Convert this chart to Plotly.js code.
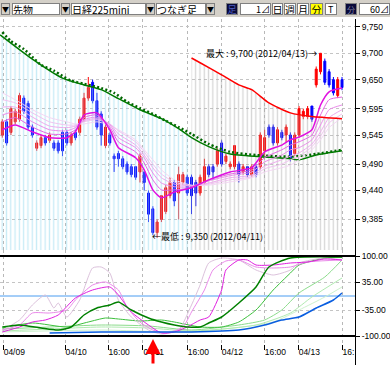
<!DOCTYPE html>
<html><head><meta charset="utf-8">
<script src="https://cdn.plot.ly/plotly-3.0.1.min.js"></script>
<style>html,body{margin:0;padding:0;background:#fff;overflow:hidden}#chart{width:390px;height:365px}</style>
</head><body><div id="chart"></div>
<script>
// ---------- DATA ----------
const bars = [0,1,2,3,4,5,6,7,8,9,10,11,12,13,14,15,16,17,18,19,20,21,22,23,24,25,26,27,28,29,30,31,32,33,34,35,36,37,38,39,40,41,42,43,44,45,46,47,48,49,50,51,52,53,54,55,56,57,58,59,60,61,62,63,64,65,66,67,68,69,70,71,72,73,74,75,76,77,78,79];
const open  = [9545,9570,9550,9570,9575,9615,9605,9560,9520,9525,9540,9535,9530,9530,9550,9550,9530,9550,9550,9575,9615,9645,9610,9585,9525,9545,9505,9510,9500,9490,9485,9485,9475,9475,9435,9405,9360,9385,9400,9430,9455,9435,9455,9465,9465,9455,9435,9455,9485,9485,9490,9530,9495,9485,9485,9490,9475,9485,9470,9485,9485,9515,9560,9560,9530,9550,9545,9545,9510,9545,9580,9580,9600,9640,9665,9685,9665,9650,9620,9650];
const high  = [9575,9575,9600,9595,9625,9620,9610,9565,9535,9545,9545,9550,9535,9535,9555,9555,9550,9555,9580,9625,9655,9650,9625,9590,9565,9550,9510,9515,9505,9495,9490,9485,9510,9475,9440,9410,9385,9430,9450,9465,9460,9485,9475,9470,9470,9460,9470,9500,9490,9490,9520,9535,9510,9495,9525,9495,9490,9485,9490,9490,9550,9555,9565,9565,9560,9555,9565,9550,9550,9600,9595,9600,9600,9675,9700,9690,9670,9655,9655,9655];
const low   = [9540,9525,9545,9565,9570,9585,9555,9540,9515,9520,9525,9530,9515,9510,9505,9525,9525,9535,9545,9570,9610,9605,9555,9525,9520,9525,9475,9485,9480,9470,9465,9460,9455,9440,9380,9355,9350,9380,9395,9425,9410,9385,9450,9430,9395,9410,9430,9450,9465,9460,9485,9485,9490,9480,9480,9455,9470,9465,9465,9465,9480,9505,9540,9525,9525,9535,9530,9495,9505,9540,9575,9575,9570,9635,9660,9640,9635,9620,9615,9630];
const close = [9570,9530,9595,9590,9620,9590,9560,9545,9530,9540,9530,9545,9520,9515,9515,9530,9545,9540,9575,9615,9635,9610,9560,9545,9560,9530,9500,9500,9485,9475,9470,9465,9505,9455,9395,9360,9380,9430,9445,9455,9420,9470,9470,9435,9430,9435,9465,9485,9470,9475,9515,9490,9505,9490,9525,9470,9485,9470,9485,9470,9545,9540,9545,9530,9555,9540,9560,9500,9545,9595,9590,9595,9575,9670,9700,9645,9640,9625,9650,9635];

// moving-average ribbon (sampled)
const ribX = [0,3,7,11,15,17,19,22,25,27,31,33,35,37,40,44,48,53,58,61,65,67,69,72,74,76,79];
const ma1 = [9555,9564,9551,9540,9540,9551,9583,9587,9555,9521,9502,9479,9441,9426,9437,9445,9460,9475,9483,9513,9526,9536,9541,9555,9602,9627,9634];
const ma2 = [9570,9578,9560,9547,9547,9555,9578,9583,9560,9532,9513,9492,9460,9441,9441,9445,9460,9471,9479,9502,9517,9526,9532,9545,9583,9612,9617];
const ma3 = [9583,9589,9570,9555,9553,9559,9574,9579,9564,9540,9521,9502,9473,9454,9447,9447,9458,9468,9475,9494,9507,9517,9521,9536,9564,9593,9602];
const ma4 = [9598,9598,9579,9562,9559,9562,9572,9576,9566,9547,9526,9507,9483,9464,9452,9449,9454,9464,9469,9486,9498,9505,9511,9528,9551,9578,9593];
const ma5 = [9612,9606,9587,9570,9564,9564,9570,9574,9566,9553,9532,9513,9490,9471,9456,9449,9452,9460,9466,9481,9490,9498,9504,9523,9543,9568,9585];
const ma6 = [9625,9612,9593,9578,9570,9566,9566,9570,9564,9555,9536,9517,9498,9479,9460,9450,9450,9456,9464,9475,9483,9488,9498,9517,9536,9559,9578];

// long averages
const greenX = [-0.5,7,14,19,23,27,32,37,41,44,48,53,60,67,69,73,79];
const greenY = [9735,9689,9653,9640,9631,9614,9593,9576,9557,9540,9523,9509,9504,9500,9498,9507,9515];
const dotX = [0,2,5,7,9,12,14,16,19,21,23,26,29,32,35,38,41,44,48,53,59,67,73,79];
const dotY = [9740,9723,9708,9693,9678,9667,9657,9648,9642,9638,9634,9625,9608,9596,9585,9572,9560,9547,9528,9513,9507,9504,9509,9517];
const redX = [44,46,51,55,58,62,67,72,79];
const redY = [9691,9682,9659,9640,9631,9606,9587,9580,9576];

// oscillator panel
const p3X = [0,4,7,10,12,13,15,18,21,23,25,27,30,34,37,41,44,46,48,51,55,59,63,67,69,75,79];
const p3Y = [-85,-60,-22.5,2.5,-30,-17.5,-52.5,-10,70,72.5,57.5,-10,-52.5,-85,-95,-85,-22.5,27.5,82.5,95,90,65,52.5,65,82.5,95,90];
const p2X = [0,4,7,11,15,17,21,24,27,29,32,35,38,42,44,47,49,52,55,59,63,67,71,79];
const p2Y = [-85,-72.5,-42.5,-42.5,-35,-10,27.5,35,15,-27.5,-65,-85,-92.5,-77.5,-40,15,65,87.5,90,72.5,70,72.5,85,90];
const p1X = [0,4,7,10,13,17,21,25,27,30,34,37,40,43,46,48,51,52,55,57,59,63,67,71,75,79];
const p1Y = [-90,-77.5,-65,-60,-47.5,-5,15,22.5,2.5,-40,-72.5,-92.5,-90,-77.5,-60,-52.5,15,65,90,90,77.5,77.5,82.5,85,92.5,90];
const g1X = [0,4,9,13,16,19,22,25,27,30,34,37,40,43,46,48,51,55,59,62,67,79];
const g1Y = [-77.5,-72.5,-80,-85,-77.5,-47.5,-30,-22.5,-15,-35,-55,-65,-72.5,-77.5,-77.5,-67.5,-52.5,-17.5,22.5,72.5,95,97.5];
const g2X = [0,7,15,20,24,27,32,37,40,46,51,55,59,63,67,69,75,79];
const g2Y = [-80,-67.5,-77.5,-65,-55,-57.5,-62.5,-60,-65,-77.5,-77.5,-65,-35,15,57.5,77.5,95,97.5];
const g3X = [0,11,23,34,44,55,61,65,69,75,79];
const g3Y = [-82.5,-77.5,-72.5,-75,-85,-72.5,-60,-35,7.5,47.5,90];
const g4X = [0,11,23,34,44,59,67,72,79];
const g4Y = [-87.5,-82.5,-77.5,-80,-87.5,-72.5,-42.5,-2.5,45];
const g5X = [0,23,44,63,69,75,79];
const g5Y = [-90,-85,-90,-65,-35,-2.5,22.5];
const bX = [11,23,34,44,55,61,65,69,73,77,79];
const bY = [-92.5,-90,-90,-90,-85,-72.5,-60,-52.5,-30,-10,7.5];

// axis ticks
const xTickVals = [0.2,14.6,24.6,32.7,43,50.9,60.9,68.8,79];
const xTickText = ['04/09','04/10','16:00','04/11','16:00','04/12','16:00','04/13','16:'];
const yTickVals = [9385,9440,9490,9545,9595,9650,9700,9750];
const yTickText = ['9,385','9,440','9,490','9,545','9,595','9,650','9,700','9,750'];
const oTickVals = [100,35,-35,-100];
const oTickText = ['100.00','35.00','-35.00','-100.00'];

// ---------- TRACES ----------
const W = 390, H = 365;
const line = (x,y,color,width,ax,extra) => Object.assign({type:'scatter',mode:'lines',x,y,xaxis:ax[0],yaxis:ax[1],
  line:{color,width,shape:'spline',smoothing:0.6},hoverinfo:'skip',showlegend:false},extra||{});
const M = ['x','y'], O = ['x2','y2'];
const nL = 10;
const traces = [
  {type:'scatter',mode:'lines',x:greenX.slice(0,nL),y:greenY.slice(0,nL),xaxis:'x',yaxis:'y',fill:'tozeroy',
   line:{width:0,color:'rgba(0,0,0,0)'},fillcolor:'rgba(0,0,0,0)',
   fillpattern:{shape:'|',size:4.3,solidity:0.3,fgcolor:'#92d8ee',bgcolor:'rgba(255,255,255,0)',fillmode:'overlay'},hoverinfo:'skip',showlegend:false},
  {type:'scatter',mode:'lines',x:redX,y:redY,xaxis:'x',yaxis:'y',fill:'tozeroy',
   line:{width:0,color:'rgba(0,0,0,0)'},fillcolor:'rgba(0,0,0,0)',
   fillpattern:{shape:'|',size:4.3,solidity:0.3,fgcolor:'#acacac',bgcolor:'rgba(255,255,255,0)',fillmode:'overlay'},hoverinfo:'skip',showlegend:false},
  line(dotX,dotY,'#006400',2.5,M,{line:{color:'#006400',width:2.5,dash:'2px,2.3px',shape:'spline',smoothing:0.6}}),
  line(greenX,greenY,'#007a00',1.5,M),
  line(ribX,ma6,'#f4d6f4',1,M),
  line(ribX,ma5,'#f0c2f0',1,M),
  line(ribX,ma4,'#eeaaee',1,M),
  line(ribX,ma3,'#ea8cea',1,M),
  line(ribX,ma2,'#e464e4',1,M),
  line(ribX,ma1,'#e010e0',1.5,M),
  line(redX,redY,'#ff0000',1.5,M),
  {type:'candlestick',x:bars,open,high,low,close,xaxis:'x',yaxis:'y',whiskerwidth:0,
   increasing:{line:{color:'#ff0000',width:1},fillcolor:'#ff0000'},
   decreasing:{line:{color:'#0000ff',width:1},fillcolor:'#0000ff'},hoverinfo:'skip',showlegend:false},
  line(g5X,g5Y,'#cdf2cd',1,O),
  line(g4X,g4Y,'#b0eab0',1,O),
  line(g3X,g3Y,'#8cdc8c',1,O),
  line(g2X,g2Y,'#3cc03c',1,O),
  line(p3X,p3Y,'#dcc2dc',1,O),
  line(p2X,p2Y,'#ea8aea',1,O),
  line(p1X,p1Y,'#e020e0',1,O),
  line(g1X,g1Y,'#008000',1.5,O),
  line(bX,bY,'#0a5ee0',1.5,O)
];

// ---------- LAYOUT ----------
const px = v => v/W, py = v => 1 - v/H;
const tickFont = {family:'Liberation Sans',size:8.5,color:'#000'};
const uiFont = {family:'Noto Sans CJK JP',size:10,color:'#000'};
const box = (x0,x1,text,bg,fc,align,fs) => ({xref:'paper',yref:'paper',x:px(x0),y:py(3),xanchor:'left',yanchor:'top',
  width:x1-x0-2,height:10,text,showarrow:false,bgcolor:bg,bordercolor:'#808080',borderwidth:1,borderpad:0,
  align:align||'left',font:Object.assign({},uiFont,{color:fc||'#000',size:fs||10})});
const annotations = [
  box(1,10,'▼','#d4d0c8','#000','center',7),
  box(12,60,'先物','#fff'),
  box(61,70,'▼','#d4d0c8','#000','center',7),
  box(71,146,'日経225mini','#fff'),
  box(146,155,'▼','#d4d0c8','#000','center',7),
  box(156,206,'つなぎ足','#fff'),
  box(206,215,'▼','#d4d0c8','#000','center',7),
  box(226,238,'足','#0a0a3a','#5060c0','center',9),
  box(240,271,'1⊿','#fff','#000','right',9),
  box(272,283,'日','#fff','#000','center',10),
  box(284,296,'週','#fff','#000','center',10),
  box(297,309,'月','#fff','#000','center',10),
  box(310,323,'分','#ffff00','#000','center',10),
  box(325,337,'T','#fff','#000','center',9),
  box(345,357,'分','#0a0a3a','#8080a0','center',8),
  box(359,390,'60⊿','#fff','#000','right',9),
  {xref:'x',yref:'y',x:73.6,y:9700,xanchor:'right',yanchor:'middle',showarrow:false,
   text:'最大 : 9,700 (2012/04/13)→',font:{family:'Noto Sans CJK JP',size:9,color:'#000'}},
  {xref:'x',yref:'y',x:34.4,y:9352,xanchor:'left',yanchor:'middle',showarrow:false,
   text:'←最低 : 9,350 (2012/04/11)',font:{family:'Noto Sans CJK JP',size:9,color:'#000'}},
  {xref:'paper',yref:'paper',x:px(153),y:py(339),ax:0,ay:26,text:'',showarrow:true,
   arrowhead:2,arrowsize:1,arrowwidth:3,arrowcolor:'#ff0000'}
];
const shapes = [
  {type:'rect',xref:'paper',yref:'paper',x0:0,x1:1,y0:py(17),y1:1,fillcolor:'#d4d0c8',line:{width:0},layer:'below'},
  {type:'line',xref:'x2 domain',yref:'y2',x0:0,x1:1,y0:100,y1:100,line:{color:'#000',width:2}},
  {type:'line',xref:'x2 domain',yref:'y2',x0:0,x1:1,y0:-100,y1:-100,line:{color:'#000',width:2}},
  {type:'line',xref:'x2 domain',yref:'y2',x0:0,x1:1,y0:0,y1:0,line:{color:'#4a9cf0',width:1},layer:'below'},
  {type:'line',xref:'paper',yref:'paper',x0:px(355.5),x1:px(355.5),y0:0,y1:py(19),line:{color:'#000',width:1}}
];
const xDom = [0, 355/W];
const layout = {
  width:W,height:H,margin:{l:0,r:0,t:0,b:0},paper_bgcolor:'#fff',plot_bgcolor:'#fff',
  showlegend:false,boxgap:0.35,dragmode:false,
  xaxis:{domain:xDom,anchor:'y',range:[-0.535,82.02],tickvals:xTickVals,showticklabels:false,ticks:'',
    showgrid:true,gridcolor:'#b8b8b8',griddash:'dot',gridwidth:1,zeroline:false,showline:false,rangeslider:{visible:false},fixedrange:true},
  yaxis:{domain:[py(250),py(19)],anchor:'x',range:[9327,9765],side:'right',tickvals:yTickVals,ticktext:yTickText,
    showline:true,linecolor:'#000',linewidth:1,ticks:'outside',ticklen:4,tickcolor:'#000',tickfont:tickFont,
    showgrid:true,gridcolor:'#c4c4c4',griddash:'dot',zeroline:false,fixedrange:true},
  xaxis2:{domain:xDom,anchor:'y2',matches:'x',range:[-0.535,82.02],tickvals:xTickVals,ticktext:xTickText,
    ticks:'outside',ticklen:5,tickcolor:'#000',ticklabelposition:'outside right',tickfont:tickFont,
    showgrid:true,gridcolor:'#b8b8b8',griddash:'dot',zeroline:false,showline:false,fixedrange:true},
  yaxis2:{domain:[py(344),py(250)],anchor:'x2',range:[-120,115],side:'right',tickvals:oTickVals,ticktext:oTickText,
    showline:true,linecolor:'#000',linewidth:1,ticks:'outside',ticklen:4,tickcolor:'#000',tickfont:tickFont,
    showgrid:true,gridcolor:'#c4c4c4',griddash:'dot',zeroline:false,fixedrange:true},
  annotations, shapes
};
Plotly.newPlot('chart',traces,layout,{staticPlot:true,displayModeBar:false});
</script></body></html>
